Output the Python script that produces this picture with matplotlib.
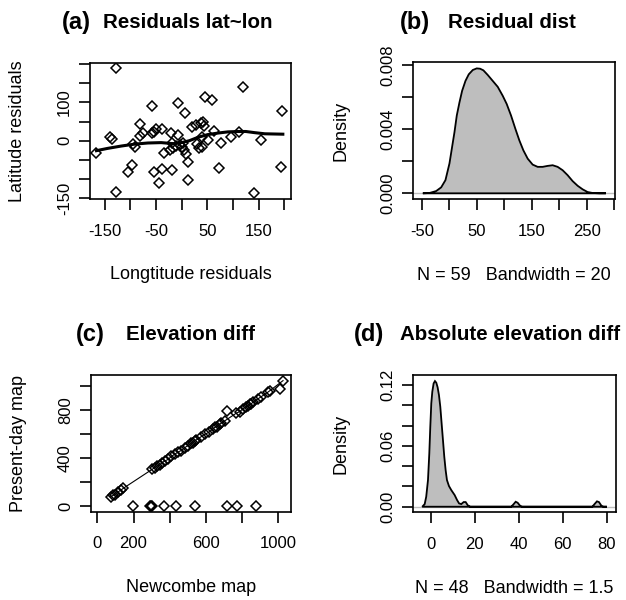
import matplotlib
matplotlib.use("Agg")
import matplotlib.pyplot as plt
import numpy as np

plt.rcParams['font.family'] = ['Liberation Sans', 'DejaVu Sans']

# ---------------- data ----------------
# (a) residual scatter
lon_res = [-166, -140, -135, -127, -127, -104, -97, -94, -91, -81, -81, -76, -57, -57, -53, -50,
           -53, -44, -39, -38, -34, -20, -19, -18, -16, -12, -8, -8, 0, 3, 7, 5, 8, 12, 13, 21,
           27, 29, 34, 39, 40, 42, 44, 45, 52, 60, 62, 73, 76, 97, 112, 119, 140, 155, 194, 195,
           -22, -3, 37]
lat_res = [-33, 10, 5, 190, -133, -81, -63, -9, -16, 43, 12, 21, 90, 19, 23, 30,
           -81, -111, -75, 31, -33, 19, -77, -7, -20, -14, 99, 15, -16, -7, 71, -24, -35, -103, -55, 36,
           41, -9, -20, -16, 10, 50, 38, 113, 2, 106, 26, -70, -5, 9, 23, 139, -137, 2, -68, 77,
           -25, -12, 45]
lowess_x = [-166, -144, -118, -92, -66, -40, -14, 0, 15, 32, 51, 71, 90, 110, 125, 142, 162, 197]
lowess_y = [-26, -20, -14, -9, -6, -5, -8, -5, 0, 9, 16, 20, 23, 24, 24, 21, 18, 17]

# (b) density of residual distance (N = 59, bw = 20)
dens_b_x = [-48.4, -36.3, -24.2, -15.1, -7.3, 0, 4.8, 9.1, 13.3, 18.2, 23.0, 29.1, 35.1, 42.4, 49.6,
            55.7, 61.7, 69.6, 78.7, 87.8, 96.9, 104.1, 112.0, 119.9, 127.1, 134.4, 142.3, 151.3,
            160.4, 169.5, 178.6, 187.7, 196.7, 205.8, 214.9, 224.0, 233.1, 242.1, 251.2, 260.3,
            272.4, 284.5]
dens_b_y = [0, 0.00002, 0.00014, 0.00037, 0.00082, 0.00186, 0.00289, 0.00381, 0.00485, 0.00567,
            0.00639, 0.00701, 0.00742, 0.00769, 0.00779, 0.00777, 0.00767, 0.00738, 0.00701,
            0.00664, 0.00608, 0.00557, 0.00485, 0.00402, 0.00330, 0.00268, 0.00216, 0.00179,
            0.00165, 0.00165, 0.00171, 0.00175, 0.00165, 0.00144, 0.00113, 0.00076, 0.00047,
            0.00025, 0.00008, 0.00002, 0, 0]

# (c) elevation: Newcombe map vs present-day map
newcombe = [74, 87, 99, 114, 133, 142, 302, 317, 331, 345, 357, 372, 391, 409, 431, 446, 464, 483,
            501, 519, 529, 540, 547, 571, 593, 615, 639, 650, 663, 675, 685, 704, 768, 787, 805,
            823, 830, 842, 850, 860, 888, 906, 943, 952, 1026]
present = [79, 90, 97, 118, 136, 147, 305, 320, 334, 343, 360, 375, 388, 413, 434, 450, 462, 486,
           503, 523, 527, 545, 550, 574, 596, 612, 643, 655, 660, 680, 689, 708, 772, 785, 809,
           826, 833, 846, 848, 864, 891, 909, 947, 957, 1042]
outlier_x = [718, 1008]
outlier_y = [793, 975]
zero_x = [199, 289, 294, 302, 368, 435, 540, 714, 773, 877]
zero_y = [0, 0, 0, 0, 0, 0, 0, 0, 0, 0]

# (d) density of absolute elevation difference (N = 48, bw = 1.5)
dens_d_x = [-3.8, -2.7, -2.0, -1.2, -0.6, -0.15, 0.3, 0.76, 1.36, 1.97, 2.57, 3.18, 3.78, 4.39, 4.99,
            5.60, 6.20, 6.81, 7.41, 8.32, 9.38, 10.9, 12.0, 12.9, 13.9, 15.0, 15.9, 16.9, 18.0,
            36.6, 37.7, 38.6, 39.5, 40.7, 41.6, 73.4, 74.4, 75.5, 76.4, 77.6, 78.5, 80.0]
dens_d_y = [0, 0.0026, 0.0099, 0.0263, 0.0526, 0.0789, 0.1019, 0.1134, 0.1216, 0.1239, 0.1223,
            0.1177, 0.1101, 0.0986, 0.0822, 0.0657, 0.0493, 0.0361, 0.0263, 0.0204, 0.0164,
            0.0115, 0.0066, 0.0033, 0.0026, 0.0046, 0.0046, 0.0013, 0, 0, 0.0026, 0.0049,
            0.0039, 0.0007, 0, 0, 0.0026, 0.0053, 0.0046, 0.0007, 0, 0]

# ---------------- figure ----------------
W, H = 626, 600
fig = plt.figure(figsize=(W / 100, H / 100), dpi=100)


def rect(l, t, r, b):
    return [l / W, 1 - b / H, (r - l) / W, (b - t) / H]


TICK_FS = 12
LAB_FS = 13
GRAY = '#bebebe'


def style(ax, xticks, xlabels, yticks, ylabels, xlabel, ylabel):
    for s in ax.spines.values():
        s.set_linewidth(1.2)
    ax.set_xticks(xticks)
    ax.set_xticklabels(xlabels, fontsize=TICK_FS)
    ax.set_yticks(yticks)
    ax.set_yticklabels(ylabels, fontsize=TICK_FS, rotation=90, va='center')
    ax.tick_params(axis='both', direction='out', length=8, width=1.2)
    ax.tick_params(axis='x', pad=10)
    ax.tick_params(axis='y', pad=5)
    ax.set_xlabel(xlabel, fontsize=LAB_FS)
    ax.set_ylabel(ylabel, fontsize=LAB_FS)
    ax.xaxis.label.set_va('center')
    ax.yaxis.label.set_va('center')
    pos = ax.get_position()
    ax.xaxis.set_label_coords(0.5, -76 / (pos.height * H))
    ax.yaxis.set_label_coords(-72 / (pos.width * W), 0.5)


mk = dict(marker='D', ms=5.0, mfc='none', mec='black', mew=1.1, ls='none')

# (a)
axa = fig.add_axes(rect(90, 63, 291, 198.5))
axa.plot(lon_res, lat_res, **mk)
axa.plot(lowess_x, lowess_y, color='black', lw=2.2)
axa.set_xlim(-178.6, 212.9)
axa.set_ylim(-150.8, 202.7)
style(axa, [-150, -100, -50, 0, 50, 100, 150, 200], ['-150', '', '-50', '', '50', '', '150', ''],
      [-150, -100, -50, 0, 50, 100, 150, 200], ['-150', '', '', '0', '', '100', '', ''],
      'Longtitude residuals', 'Latitude residuals')

# (b)
axb = fig.add_axes(rect(413, 62.3, 614.7, 199))
axb.axhline(0, color=GRAY, lw=1.0, zorder=1)
axb.fill(dens_b_x, dens_b_y, facecolor=GRAY, edgecolor='black', lw=1.3, zorder=2)
axb.set_xlim(-66.3, 300.5)
axb.set_ylim(-0.000355, 0.00817)
style(axb, [-50, 0, 50, 100, 150, 200, 250, 300], ['-50', '', '50', '', '150', '', '250', ''],
      [0, 0.002, 0.004, 0.006, 0.008], ['0.000', '', '0.004', '', '0.008'],
      'N = 59   Bandwidth = 20', 'Density')

# (c)
axc = fig.add_axes(rect(91, 375.3, 291, 511.5))
axc.plot(newcombe, present, color='black', lw=0.8)
axc.plot(newcombe, present, **mk)
axc.plot(outlier_x, outlier_y, **mk)
axc.plot(zero_x, zero_y, **mk)
axc.set_xlim(-35, 1070)
axc.set_ylim(-44, 1086)
style(axc, [0, 200, 400, 600, 800, 1000], ['0', '200', '', '600', '', '1000'],
      [0, 200, 400, 600, 800, 1000], ['0', '', '400', '', '800', ''],
      'Newcombe map', 'Present-day map')

# (d)
axd = fig.add_axes(rect(413, 375.3, 615.7, 512.3))
axd.axhline(0, color=GRAY, lw=1.0, zorder=1)
axd.fill(dens_d_x, dens_d_y, facecolor=GRAY, edgecolor='black', lw=1.3, zorder=2)
axd.set_xlim(-8.0, 84.0)
axd.set_ylim(-0.0055, 0.1296)
style(axd, [0, 20, 40, 60, 80], ['0', '20', '40', '60', '80'],
      [0, 0.02, 0.04, 0.06, 0.08, 0.10, 0.12], ['0.00', '', '', '0.06', '', '', '0.12'],
      'N = 48   Bandwidth = 1.5', 'Density')

# titles
TFS = 14.8
fig.text(188 / W, 1 - 23 / H, 'Residuals lat~lon', ha='center', va='center', fontsize=TFS, fontweight='bold')
fig.text(512 / W, 1 - 22 / H, 'Residual dist', ha='center', va='center', fontsize=TFS, fontweight='bold')
fig.text(190 / W, 1 - 335 / H, 'Elevation diff', ha='center', va='center', fontsize=TFS, fontweight='bold')
fig.text(510 / W, 1 - 335 / H, 'Absolute elevation diff', ha='center', va='center', fontsize=TFS, fontweight='bold')
PFS = 17
fig.text(76.5 / W, 1 - 23 / H, '(a)', ha='center', va='center', fontsize=PFS, fontweight='bold')
fig.text(415 / W, 1 - 22 / H, '(b)', ha='center', va='center', fontsize=PFS, fontweight='bold')
fig.text(90 / W, 1 - 334 / H, '(c)', ha='center', va='center', fontsize=PFS, fontweight='bold')
fig.text(369 / W, 1 - 334 / H, '(d)', ha='center', va='center', fontsize=PFS, fontweight='bold')

fig.savefig('out.png', dpi=100)
